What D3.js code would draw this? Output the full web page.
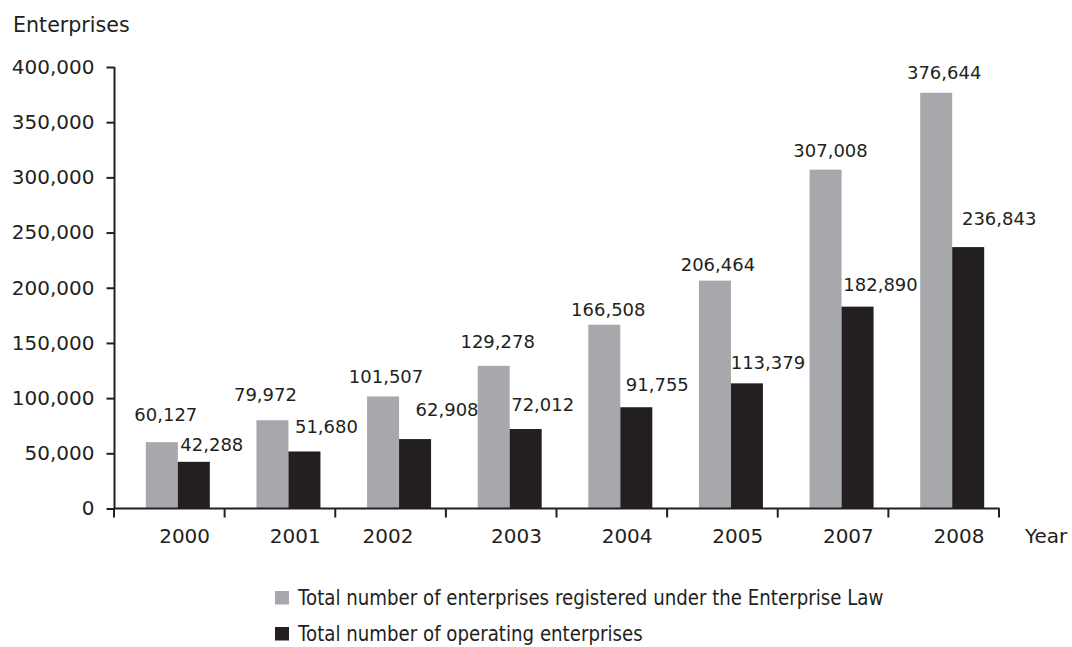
<!DOCTYPE html>
<html>
<head>
<meta charset="utf-8">
<script src="https://cdn.jsdelivr.net/npm/d3@7/dist/d3.min.js"></script>
<style>
  html, body { margin: 0; padding: 0; background: #fff; }
  svg { display: block; font-family: "DejaVu Sans", Verdana, sans-serif; }
  text { fill: #231f20; }
</style>
</head>
<body>
<svg id="chart" width="1072" height="647"></svg>
<script>
// Enterprise counts by year
const years = ["2000", "2001", "2002", "2003", "2004", "2005", "2007", "2008"];
const registered = [60127, 79972, 101507, 129278, 166508, 206464, 307008, 376644];
const operating = [42288, 51680, 62908, 72012, 91755, 113379, 182890, 236843];
const yTicks = [0, 50000, 100000, 150000, 200000, 250000, 300000, 350000, 400000];
const seriesNames = [
  "Total number of enterprises registered under the Enterprise Law",
  "Total number of operating enterprises"
];

const colors = ["#a7a8ab", "#231f20"];
const ink = "#231f20";

// Hand-placed value label nudges: [dx from bar centre, dy of baseline from bar top]
const labelNudge = [
  [[4, -21.5], [-7, -19], [3, -13], [4, -18], [4, -9], [3, -10], [5, -13], [8, -14]],
  [[18, -11], [22, -18.5], [32, -23], [17, -18], [21, -16], [21, -14], [23, -16], [31, -22]]
];
// Year label shift from category centre (2002 sits further left)
const yearNudge = { "2002": -17.8 };

const svg = d3.select("#chart");

const x = d3.scaleBand().domain(years).range([114, 999]).padding(0);
const groupShift = 8.5;
const sub = d3.scaleBand().domain([0, 1]).range([0, 64]).padding(0);
const y = d3.scaleLinear().domain([0, 400000]).range([508.5, 67]);
const fmt = d3.format(",");

const groupLeft = yr => x(yr) + x.bandwidth() / 2 + groupShift - 32;

// Bars
const series = [registered, operating];
series.forEach((vals, s) => {
  svg.append("g").selectAll("rect")
    .data(years)
    .join("rect")
    .attr("x", (d, i) => groupLeft(d) + sub(s))
    .attr("y", (d, i) => y(vals[i]))
    .attr("width", sub.bandwidth())
    .attr("height", (d, i) => y(0) - y(vals[i]))
    .attr("fill", colors[s]);
});

// Value labels
series.forEach((vals, s) => {
  svg.append("g").selectAll("text")
    .data(years)
    .join("text")
    .attr("x", (d, i) => groupLeft(d) + sub(s) + sub.bandwidth() / 2 + labelNudge[s][i][0])
    .attr("y", (d, i) => y(vals[i]) + labelNudge[s][i][1])
    .attr("text-anchor", "middle")
    .attr("font-size", 18)
    .text((d, i) => fmt(vals[i]));
});

// Y axis
const yAxis = svg.append("g")
  .attr("transform", "translate(114.5,0)")
  .call(d3.axisLeft(y).tickValues(yTicks).tickFormat(fmt).tickSize(8).tickPadding(12));
yAxis.select(".domain").attr("stroke", ink).attr("stroke-width", 2).attr("d", `M0,${y(400000)}V${y(0)}`);
yAxis.selectAll(".tick line").attr("stroke", ink).attr("stroke-width", 2);
yAxis.selectAll(".tick text")
  .attr("font-size", 20)
  .attr("font-family", "DejaVu Sans, Verdana, sans-serif")
  .attr("fill", ink);

// X axis: ticks at category boundaries
const boundaries = years.map(d => x(d)).concat([x(years[years.length - 1]) + x.bandwidth()]);
const xAxisG = svg.append("g");
xAxisG.append("line")
  .attr("x1", 114).attr("x2", 999.5)
  .attr("y1", y(0)).attr("y2", y(0))
  .attr("stroke", ink).attr("stroke-width", 2);
xAxisG.selectAll("line.tick")
  .data(boundaries)
  .join("line")
  .attr("class", "tick")
  .attr("x1", d => d).attr("x2", d => d)
  .attr("y1", y(0)).attr("y2", y(0) + 9)
  .attr("stroke", ink).attr("stroke-width", 2);
xAxisG.selectAll("text")
  .data(years)
  .join("text")
  .attr("x", d => x(d) + x.bandwidth() / 2 + 15.3 + (yearNudge[d] || 0))
  .attr("y", 543)
  .attr("text-anchor", "middle")
  .attr("font-size", 20)
  .text(d => d);

// Axis titles
svg.append("text").attr("x", 13).attr("y", 32).attr("font-size", 20.6).text("Enterprises");
svg.append("text").attr("x", 1025).attr("y", 543).attr("font-size", 20).text("Year");

// Legend (text drawn slightly taller than its natural proportions)
const legend = svg.append("g");
seriesNames.forEach((name, i) => {
  const ly = 591 + i * 36;
  legend.append("rect").attr("x", 275).attr("y", ly).attr("width", 14).attr("height", 13.5).attr("fill", colors[i]);
  legend.append("text")
    .attr("transform", `translate(298,${ly + 14}) scale(1,1.12)`)
    .attr("font-size", 18.2)
    .text(name);
});
</script>
</body>
</html>
